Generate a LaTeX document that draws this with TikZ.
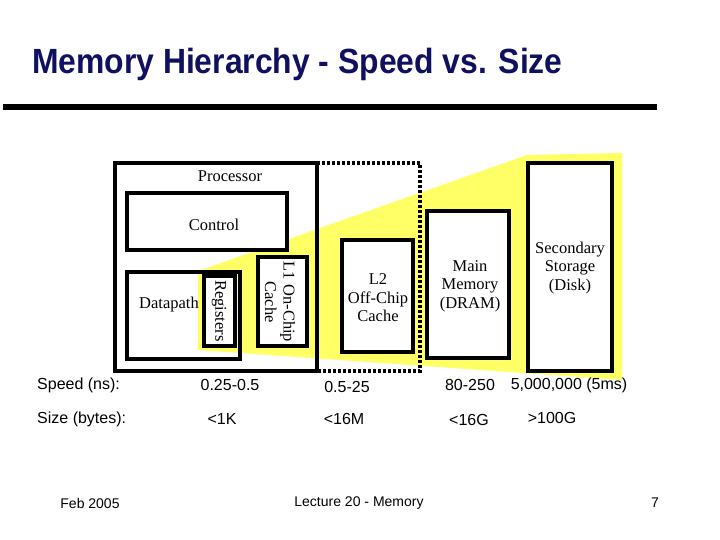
\documentclass[tikz,border=0pt]{standalone}
\usepackage{fontspec}
\setmainfont{Liberation Serif}
\setsansfont{Liberation Sans}
\definecolor{navy}{RGB}{16,16,96}
\definecolor{yel}{RGB}{255,255,102}
\begin{document}
\begin{tikzpicture}[x=1pt,y=-1pt,
  box/.style={draw, line width=4pt, inner sep=0pt, outer sep=0pt, rectangle},
  wbox/.style={box, fill=white},
  lbl/.style={inner sep=0pt, font=\fontsize{16.5}{18.5}\selectfont, align=center},
  row/.style={inner sep=0pt, font=\sffamily\fontsize{16}{18}\selectfont},
  foot/.style={inner sep=0pt, font=\sffamily\fontsize{14}{16}\selectfont},
  dots/.style={line width=4pt, dash pattern=on 3pt off 2pt}]
\useasboundingbox (0,0) rectangle (720,540);
% title and rule
\node[anchor=west, inner sep=0pt, text=navy, font=\sffamily\bfseries\fontsize{35}{40}\selectfont, xscale=0.91] (title) at (32,64) {Memory Hierarchy - Speed vs. Size};
\fill (3,104) rectangle (657,110);
% yellow wedge
\fill[yel] (198,271) -- (527,155) -- (622,153) -- (622,380) -- (198,350) -- cycle;
% boxes
\node[box, minimum width=202pt, minimum height=208pt] (proc) at (216,267) {};
\coordinate (dotNE) at (420,163);
\draw[dots] (proc.north east) -- (dotNE) |- (proc.south east);
\node[wbox, minimum width=160pt, minimum height=57pt] (ctrl) at (207,221.5) {};
\node[box, minimum width=113pt, minimum height=87pt] (dp) at (183.5,315.5) {};
\node[wbox, minimum width=31pt, minimum height=70pt] (reg) at (219.5,311) {};
\node[wbox, minimum width=49pt, minimum height=89pt] (l1) at (282.5,301.5) {};
\node[wbox, minimum width=71pt, minimum height=112pt] (l2) at (377.5,296) {};
\node[wbox, minimum width=82pt, minimum height=147pt] (mm) at (468,284.5) {};
\node[wbox, minimum width=84pt, minimum height=208pt] (sec) at (570,267) {};
% labels
\node[lbl] (tproc) at (230,176) {Processor};
\node[lbl] (tctrl) at (214,225) {Control};
\node[lbl] (tdp) at (169,305) {Datapath};
\node[lbl, rotate=-90] (treg) at (219,311) {Registers};
\node[lbl, rotate=-90] (tl1) at (280,302) {L1 On-Chip\\Cache};
\node[lbl] (tl2) at (378,298) {L2\\Off-Chip\\Cache};
\node[lbl] (tmm) at (470,286) {Main\\Memory\\(DRAM)};
\node[lbl] (tsec) at (570,268) {Secondary\\Storage\\(Disk)};
% rows
\node[row, anchor=west] (sp) at (37,385) {Speed (ns):};
\node[row, anchor=west] (sz) at (37,419) {Size (bytes):};
\node[row] (sp1) at (230,385) {0.25-0.5};
\node[row] (sp2) at (347,387) {0.5-25};
\node[row] (sp3) at (470,385) {80-250};
\node[row] (sp4) at (569,385) {5,000,000 (5ms)};
\node[row] (sz1) at (222,419) {<1K};
\node[row] (sz2) at (344,419) {<16M};
\node[row] (sz3) at (469,420) {<16G};
\node[row] (sz4) at (552,418) {>100G};
% footer
\node[foot] (f1) at (90,503) {Feb 2005};
\node[foot] (f2) at (359,503) {Lecture 20 - Memory};
\node[foot] (f3) at (655,503) {7};
\end{tikzpicture}
\end{document}
